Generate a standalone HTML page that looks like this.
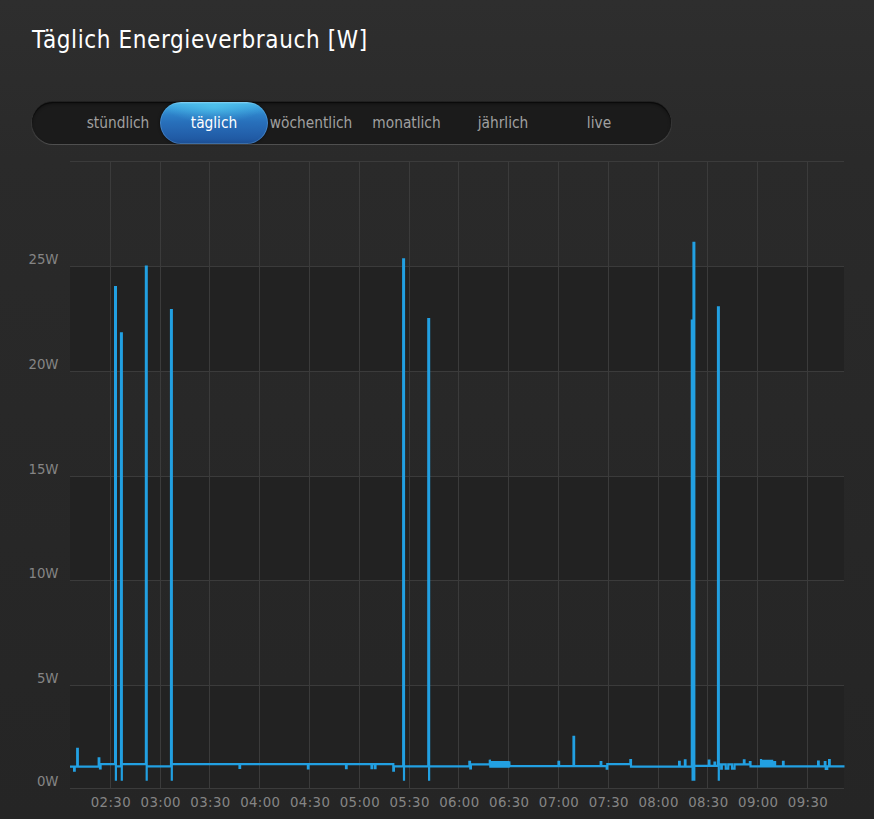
<!DOCTYPE html>
<html><head><meta charset="utf-8"><style>
html,body{margin:0;padding:0;}
body{width:874px;height:819px;overflow:hidden;background:linear-gradient(#2e2e2e 0px,#2a2a2a 160px,#282828 410px,#252525 819px);position:relative;font-family:"DejaVu Sans","Liberation Sans",sans-serif;}
h1{position:absolute;left:32px;top:24px;margin:0;font-weight:normal;font-size:24px;letter-spacing:0.6px;color:#fff;font-family:"DejaVu Sans Condensed","DejaVu Sans",sans-serif;white-space:nowrap;line-height:32px;}
.bar{position:absolute;left:32px;top:102px;width:639px;height:42px;border-radius:21px;background:#1b1b1b;box-shadow:inset 0 1px 0 #0a0a0a, inset 0 2px 3px rgba(0,0,0,.35), 0 1px 0 rgba(255,255,255,0.09), 1px 1px 0 rgba(255,255,255,0.05), -1px 1px 0 rgba(255,255,255,0.05), 0 -1px 0 rgba(0,0,0,0.25);}
.pill{position:absolute;left:160px;top:102px;width:108px;height:42px;border-radius:21px;background:radial-gradient(ellipse 45% 38% at 50% 12%, rgba(90,215,245,0.5), rgba(90,215,245,0) 100%),linear-gradient(#8ad4f4 0px,#46b0e4 2px,#389ad9 7px,#2d80c8 13px,#2870bb 20px,#2463ae 30px,#205aa4 37px,#1c4f95 41px,#173f75 42px);box-shadow:inset 0 0 0 1px rgba(140,200,245,0.30), 0 0 3px rgba(0,0,0,.6);}
.tab{position:absolute;top:102px;height:42px;line-height:42px;width:120px;margin-left:-60px;text-align:center;font-family:"DejaVu Sans Condensed","DejaVu Sans",sans-serif;font-size:15.3px;color:#a0a0a0;}
.tab.on{color:#fff;}
svg{position:absolute;left:0;top:0;}
.yl,.xl{font-family:"DejaVu Sans",sans-serif;font-size:13.3px;fill:#858585;}
.xl{letter-spacing:0.4px;}
</style></head><body>
<h1>Täglich Energieverbrauch [W]</h1>
<div class="bar"></div>
<div class="pill"></div>
<div class="tab" style="left:118px">stündlich</div>
<div class="tab on" style="left:214px">täglich</div>
<div class="tab" style="left:311px">wöchentlich</div>
<div class="tab" style="left:406.5px">monatlich</div>
<div class="tab" style="left:503px">jährlich</div>
<div class="tab" style="left:599px">live</div>
<svg width="874" height="819" viewBox="0 0 874 819">
<rect x="70" y="266.5" width="774" height="105.0" fill="#222222"/>
<rect x="70" y="476.5" width="774" height="104.0" fill="#222222"/>
<rect x="70" y="685.5" width="774" height="103.0" fill="#222222"/>
<line x1="70" x2="844" y1="788.5" y2="788.5" stroke="#3b3b3b" stroke-width="1"/>
<line x1="70" x2="844" y1="685.5" y2="685.5" stroke="#3b3b3b" stroke-width="1"/>
<line x1="70" x2="844" y1="580.5" y2="580.5" stroke="#3b3b3b" stroke-width="1"/>
<line x1="70" x2="844" y1="476.5" y2="476.5" stroke="#3b3b3b" stroke-width="1"/>
<line x1="70" x2="844" y1="371.5" y2="371.5" stroke="#3b3b3b" stroke-width="1"/>
<line x1="70" x2="844" y1="266.5" y2="266.5" stroke="#3b3b3b" stroke-width="1"/>
<line x1="70" x2="844" y1="161.5" y2="161.5" stroke="#3b3b3b" stroke-width="1"/>
<line x1="110.5" x2="110.5" y1="161" y2="789" stroke="#3b3b3b" stroke-width="1"/>
<line x1="160.5" x2="160.5" y1="161" y2="789" stroke="#3b3b3b" stroke-width="1"/>
<line x1="209.5" x2="209.5" y1="161" y2="789" stroke="#3b3b3b" stroke-width="1"/>
<line x1="259.5" x2="259.5" y1="161" y2="789" stroke="#3b3b3b" stroke-width="1"/>
<line x1="309.5" x2="309.5" y1="161" y2="789" stroke="#3b3b3b" stroke-width="1"/>
<line x1="359.5" x2="359.5" y1="161" y2="789" stroke="#3b3b3b" stroke-width="1"/>
<line x1="409.5" x2="409.5" y1="161" y2="789" stroke="#3b3b3b" stroke-width="1"/>
<line x1="458.5" x2="458.5" y1="161" y2="789" stroke="#3b3b3b" stroke-width="1"/>
<line x1="508.5" x2="508.5" y1="161" y2="789" stroke="#3b3b3b" stroke-width="1"/>
<line x1="558.5" x2="558.5" y1="161" y2="789" stroke="#3b3b3b" stroke-width="1"/>
<line x1="608.5" x2="608.5" y1="161" y2="789" stroke="#3b3b3b" stroke-width="1"/>
<line x1="658.5" x2="658.5" y1="161" y2="789" stroke="#3b3b3b" stroke-width="1"/>
<line x1="707.5" x2="707.5" y1="161" y2="789" stroke="#3b3b3b" stroke-width="1"/>
<line x1="757.5" x2="757.5" y1="161" y2="789" stroke="#3b3b3b" stroke-width="1"/>
<line x1="807.5" x2="807.5" y1="161" y2="789" stroke="#3b3b3b" stroke-width="1"/>
<path d="M70.00,766.6 L74.10,766.6 L74.10,770.6 L74.70,770.6 L74.70,766.6 L77.20,766.6 L77.20,748.8 L77.80,748.8 L77.80,766.6 L98.70,766.6 L98.70,758.4 L99.30,758.4 L99.30,766.6 L100.00,766.6 L100.00,768.5 L100.60,768.5 L100.60,764.2 L115.10,764.2 L115.10,287.2 L115.90,287.2 L115.90,780.8 L115.90,766.4 L121.00,766.4 L121.00,333.4 L121.80,333.4 L121.80,780.8 L121.80,764.1 L145.90,764.1 L145.90,266.5 L146.70,266.5 L146.70,780.8 L146.70,766.4 L171.00,766.4 L171.00,310.2 L171.80,310.2 L171.80,780.8 L171.80,764.2 L239.50,764.2 L239.50,767.8 L240.10,767.8 L240.10,764.2 L307.90,764.2 L307.90,768.5 L308.50,768.5 L308.50,764.2 L346.00,764.2 L346.00,768.2 L346.60,768.2 L346.60,764.2 L371.50,764.2 L371.50,768.2 L372.10,768.2 L372.10,764.2 L374.90,764.2 L374.90,768.2 L375.50,768.2 L375.50,764.2 L393.30,764.2 L393.30,770.6 L393.90,770.6 L393.90,766.3 L403.20,766.3 L403.20,259.3 L404.00,259.3 L404.00,780.8 L404.00,766.3 L428.30,766.3 L428.30,319.1 L429.10,319.1 L429.10,780.8 L429.10,766.3 L469.40,766.3 L469.40,761.8 L470.00,761.8 L470.00,766.3 L470.30,766.3 L470.30,768.5 L470.90,768.5 L470.90,764.4 L489.80,764.4 L489.80,759.7 L490.40,767.6 L491.10,761.2 L491.80,767.6 L492.50,761.2 L493.20,767.6 L493.90,761.2 L494.60,767.6 L495.30,761.2 L496.00,767.6 L496.70,761.2 L497.40,767.6 L498.10,761.2 L498.80,767.6 L499.50,761.2 L500.20,767.6 L500.90,761.2 L501.60,767.6 L502.30,761.2 L503.00,767.6 L503.70,761.2 L504.40,767.6 L505.10,761.2 L505.80,767.6 L506.50,761.2 L507.20,767.6 L507.90,761.2 L508.60,767.6 L509.30,761.2 L509.50,766.2 L558.50,766.2 L558.50,761.8 L559.10,761.8 L559.10,766.2 L573.50,766.2 L573.50,736.8 L574.10,736.8 L574.10,766.2 L600.70,766.2 L600.70,762.1 L601.30,762.1 L601.30,766.2 L606.70,766.2 L606.70,768.6 L607.30,768.6 L607.30,764.2 L630.40,764.2 L630.40,760.2 L631.00,760.2 L631.00,766.6 L679.10,766.6 L679.10,761.8 L679.70,761.8 L679.70,766.6 L684.90,766.6 L684.90,760.3 L685.50,760.3 L685.50,766.6 L691.80,766.6 L691.80,320.7 L692.60,320.7 L692.60,780.8 L692.60,766.6 L693.50,766.6 L693.50,242.8 L694.30,242.8 L694.30,780.8 L694.30,765.9 L708.80,765.9 L708.80,760.5 L709.40,760.5 L709.40,765.9 L714.50,765.9 L714.50,762.6 L715.10,762.6 L715.10,765.9 L718.00,765.9 L718.00,307.3 L718.80,307.3 L718.80,780.8 L718.80,764.3 L721.20,764.3 L721.20,768.7 L721.80,768.7 L721.80,764.3 L725.75,764.3 L725.75,768.7 L728.25,768.7 L728.25,764.3 L732.05,764.3 L732.05,768.7 L734.55,768.7 L734.55,764.3 L743.90,764.3 L743.90,760.3 L744.50,760.3 L744.50,764.3 L749.90,764.3 L749.90,762.2 L750.50,762.2 L750.50,766.3 L761.00,766.3 L761.00,759.0 L761.60,767.5 L762.30,759.8 L763.00,767.5 L763.70,759.8 L764.40,767.5 L765.10,759.8 L765.80,767.5 L766.50,759.8 L767.20,767.5 L767.90,759.8 L768.60,767.5 L769.30,759.8 L770.00,767.5 L770.70,759.8 L771.40,767.5 L772.10,759.8 L772.80,766.3 L774.50,766.3 L774.50,762.0 L775.10,762.0 L775.10,766.3 L783.00,766.3 L783.00,761.8 L783.60,761.8 L783.60,766.3 L818.10,766.3 L818.10,761.6 L818.70,761.6 L818.70,766.3 L824.80,766.3 L824.80,762.0 L825.40,762.0 L825.40,766.3 L825.75,766.3 L825.75,768.8 L827.25,768.8 L827.25,766.3 L829.10,766.3 L829.10,760.0 L829.70,760.0 L829.70,766.3 L844.50,766.3" fill="none" stroke="#22a0e2" stroke-width="2.2" stroke-linejoin="miter" stroke-miterlimit="2"/>
<text x="58.5" y="785.5" text-anchor="end" class="yl">0W</text>
<text x="58.5" y="682.5" text-anchor="end" class="yl">5W</text>
<text x="58.5" y="577.5" text-anchor="end" class="yl">10W</text>
<text x="58.5" y="473.5" text-anchor="end" class="yl">15W</text>
<text x="58.5" y="368.5" text-anchor="end" class="yl">20W</text>
<text x="58.5" y="263.5" text-anchor="end" class="yl">25W</text>
<text x="110.9" y="807" text-anchor="middle" class="xl">02:30</text>
<text x="160.7" y="807" text-anchor="middle" class="xl">03:00</text>
<text x="210.5" y="807" text-anchor="middle" class="xl">03:30</text>
<text x="260.3" y="807" text-anchor="middle" class="xl">04:00</text>
<text x="310.1" y="807" text-anchor="middle" class="xl">04:30</text>
<text x="359.9" y="807" text-anchor="middle" class="xl">05:00</text>
<text x="409.6" y="807" text-anchor="middle" class="xl">05:30</text>
<text x="459.4" y="807" text-anchor="middle" class="xl">06:00</text>
<text x="509.2" y="807" text-anchor="middle" class="xl">06:30</text>
<text x="559.0" y="807" text-anchor="middle" class="xl">07:00</text>
<text x="608.8" y="807" text-anchor="middle" class="xl">07:30</text>
<text x="658.6" y="807" text-anchor="middle" class="xl">08:00</text>
<text x="708.4" y="807" text-anchor="middle" class="xl">08:30</text>
<text x="758.2" y="807" text-anchor="middle" class="xl">09:00</text>
<text x="808.0" y="807" text-anchor="middle" class="xl">09:30</text>
</svg>
</body></html>
